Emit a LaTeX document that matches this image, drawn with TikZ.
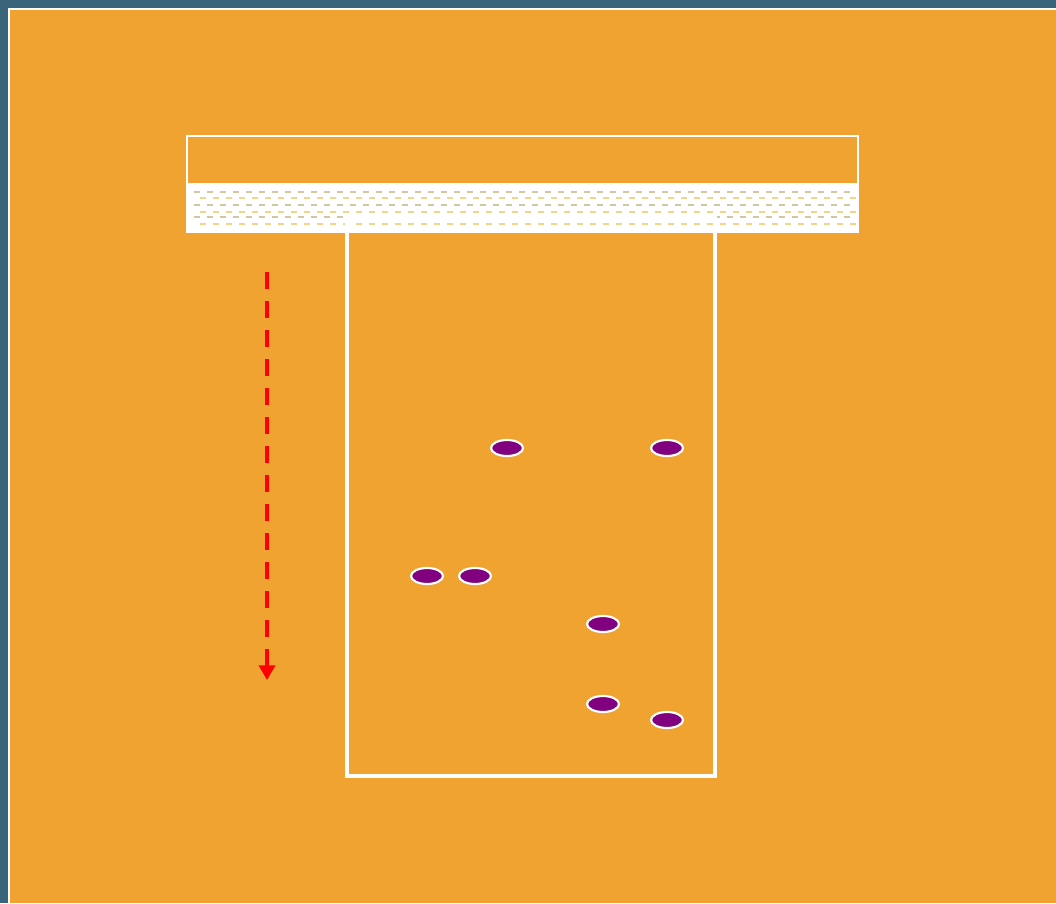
\documentclass[tikz,border=0pt]{standalone}
\usetikzlibrary{arrows.meta,shapes.geometric}
\definecolor{frame}{HTML}{3A6479}
\definecolor{bg}{HTML}{F0A330}
\definecolor{dot}{HTML}{800080}
\definecolor{tan}{HTML}{D2C7A2}
\definecolor{ylw}{HTML}{F5D48A}
\tikzset{
  spot/.style={ellipse, draw=white, fill=dot, line width=1.6pt, minimum width=24pt, minimum height=12pt, inner sep=0pt},
  tank/.style={draw=white, line width=2pt},
  plate/.style={draw=white, line width=2.6pt},
  flow/.style={draw=red, line width=3pt, dash pattern=on 12.75pt off 9pt, -{Triangle[width=12pt,length=11pt]}},
}
\begin{document}
\begin{tikzpicture}[x=0.75pt,y=-0.75pt]
\useasboundingbox (0,0) rectangle (1056,903);
\fill[frame] (0,0) rectangle (1056,903);
\fill[white] (8,8) rectangle (1056,903);
\fill[bg] (10,10) rectangle (1056,903);
% solvent band
\fill[white] (187,183) rectangle (858,232);
\foreach \yy in {192,205,217} {
  \draw[tan, line width=2.2pt, dash pattern=on 4.5pt off 5.25pt] (194,\yy) -- (856,\yy);
}
\foreach \yy in {198,212,224} {
  \draw[ylw, line width=1pt, dash pattern=on 4.5pt off 5.25pt] (200,\yy) -- (856,\yy);
}
% tank
\draw[tank] (187,136) rectangle (858,232);
% plate
\draw[plate] (347,218) rectangle (715,776);
% arrow
\coordinate (a1) at (267,272);
\coordinate (a2) at (267,680);
\draw[flow] (a1) -- (a2);
% spots
\node[spot] (s1) at (507,448) {};
\node[spot] (s2) at (667,448) {};
\node[spot] (s3) at (427,576) {};
\node[spot] (s4) at (475,576) {};
\node[spot] (s5) at (603,624) {};
\node[spot] (s6) at (603,704) {};
\node[spot] (s7) at (667,720) {};
\end{tikzpicture}
\end{document}
